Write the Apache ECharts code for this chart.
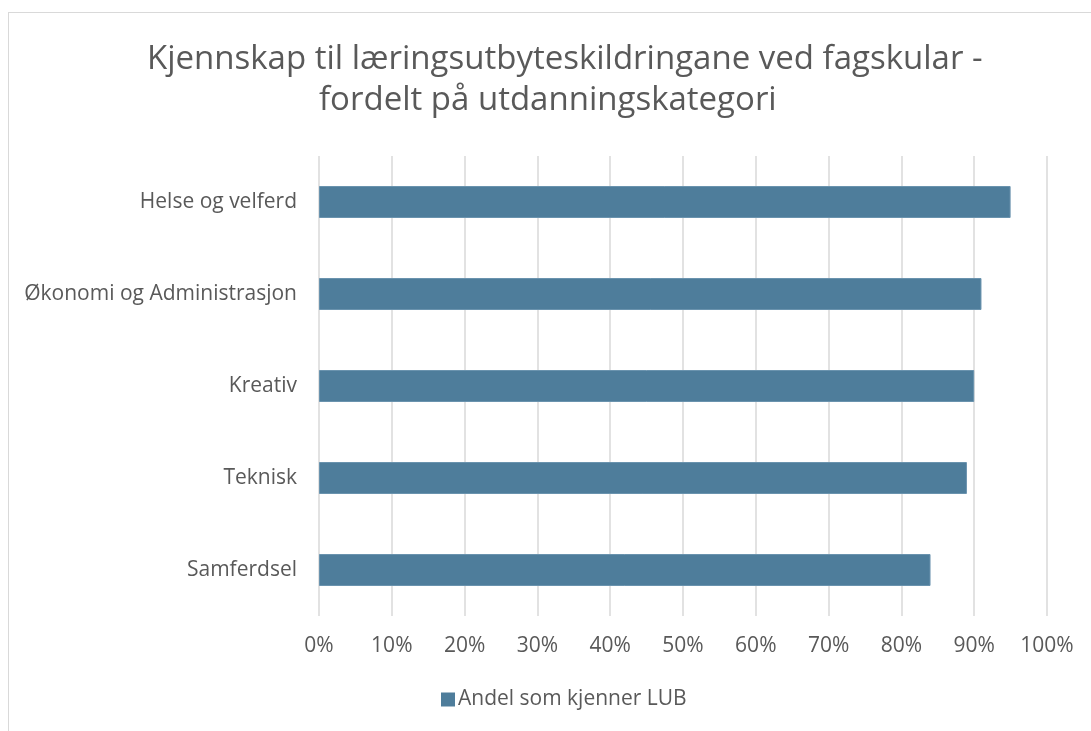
<!DOCTYPE html>
<html>
<head>
<meta charset="UTF-8">
<title>Kjennskap til LUB</title>
<script src="https://cdn.jsdelivr.net/npm/echarts@6/dist/echarts.min.js"></script>
<style>
    html, body{
        margin: 0;
        padding: 0;
        background: #fff;
        overflow: hidden;
    }
    .frame{
        position: absolute;
        left: 8px;
        top: 12px;
        width: 1100px;
        height: 740px;
        border-left: 1.5px solid #d9d9d9;
        border-top: 1.5px solid #d9d9d9;
    }
    #main{
        position: absolute;
        left: 0;
        top: 0;
        width: 1091px;
        height: 731px;
    }
</style>
</head>
<body>
    <div class="frame"></div>
    <div id="main"></div>
    <script type="text/javascript">
        // data (top to bottom as shown)
        var categories = ['Helse og velferd', 'Økonomi og Administrasjon', 'Kreativ', 'Teknisk', 'Samferdsel'];
        var values = [95, 91, 90, 89, 84];
        var seriesName = 'Andel som kjenner LUB';
        var titleLines = ['Kjennskap til læringsutbyteskildringane ved fagskular -', 'fordelt på utdanningskategori'];

        var textColor = '#595959';
        var fontFam = '"Open Sans", "Noto Sans", sans-serif';

        var myChart = echarts.init(document.getElementById('main'));

        // title is two lines, each placed on its own (excel centres them separately)
        var titleLeft = [142, 314];
        var titles = titleLines.map(function(t, i){
            return {
                text: t,
                left: titleLeft[i],
                top: 34 + i * 41,
                textStyle: {
                    fontFamily: fontFam,
                    fontSize: 33,
                    fontWeight: 'normal',
                    color: textColor,
                    lineHeight: 41
                }
            };
        });

        var option = {
            animation: false,
            title: titles,
            legend: {
                bottom: 16,
                left: 436,
                itemWidth: 14,
                itemHeight: 14,
                itemGap: 6,
                icon: 'rect',
                itemStyle: { borderWidth: 0 },
                textStyle: {
                    fontFamily: fontFam,
                    fontSize: 21,
                    color: textColor,
                    padding: [0, 0, 0, -2]
                },
                data: [seriesName]
            },
            grid: {
                left: 319,
                right: 44,
                top: 156,
                bottom: 115,
                containLabel: false
            },
            xAxis: {
                type: 'value',
                min: 0,
                max: 100,
                interval: 10,
                axisLine: { show: false },
                axisTick: { show: false },
                splitLine: {
                    show: true,
                    lineStyle: { color: '#d9d9d9', width: 1.5 }
                },
                axisLabel: {
                    formatter: '{value}%',
                    fontFamily: fontFam,
                    fontSize: 21,
                    color: textColor,
                    margin: 20
                }
            },
            yAxis: {
                type: 'category',
                inverse: true,
                data: categories,
                axisLine: { show: false },
                axisTick: { show: false },
                axisLabel: {
                    fontFamily: fontFam,
                    fontSize: 21,
                    color: textColor,
                    margin: 22
                }
            },
            series: [
                {
                    name: seriesName,
                    type: 'bar',
                    data: values,
                    barWidth: 32,
                    itemStyle: {
                        color: '#4e7d9b',
                        borderColor: '#6a93ae',
                        borderWidth: 1
                    }
                }
            ]
        };
        myChart.setOption(option);
    </script>
</body>
</html>
